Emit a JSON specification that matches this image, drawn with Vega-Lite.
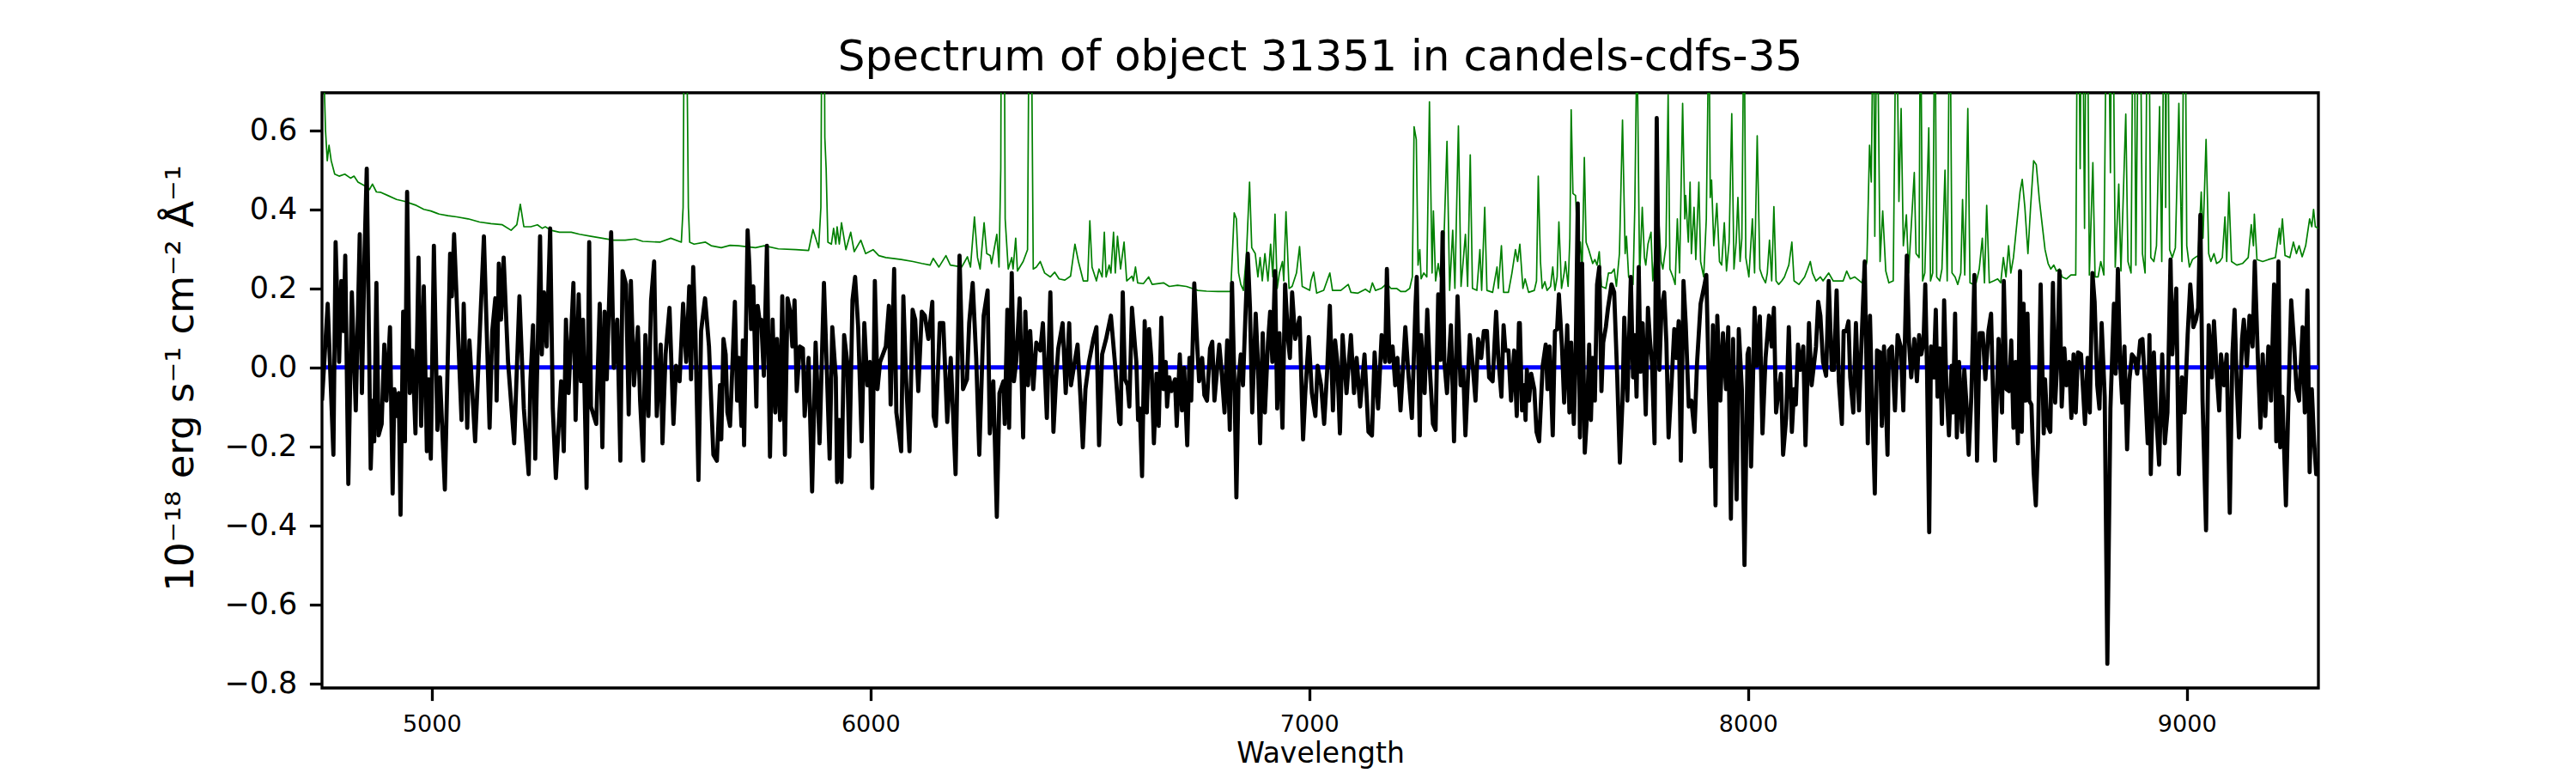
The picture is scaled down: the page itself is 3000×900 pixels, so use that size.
{
  "$schema": "https://vega.github.io/schema/vega-lite/v6.json",
  "width": 2325,
  "height": 693,
  "autosize": {"type": "none"},
  "padding": {"left": 375, "top": 108, "right": 300, "bottom": 99},
  "background": "white",
  "title": {
    "text": "Spectrum of object 31351 in candels-cdfs-35",
    "font": "DejaVu Sans",
    "fontSize": 50,
    "fontWeight": "normal",
    "color": "black",
    "anchor": "middle",
    "frame": "group",
    "baseline": "alphabetic",
    "offset": 25,
    "dy": 49
  },
  "config": {
    "font": "DejaVu Sans",
    "view": {"stroke": "black", "strokeWidth": 3.3},
    "axis": {
      "grid": false,
      "domain": false,
      "ticks": true,
      "tickColor": "black",
      "tickWidth": 3.3,
      "tickSize": 14.6,
      "labelColor": "black",
      "labelFont": "DejaVu Sans",
      "titleColor": "black",
      "titleFont": "DejaVu Sans",
      "titleFontWeight": "normal",
      "labelOverlap": false,
      "labelFlush": false
    }
  },
  "datasets": {
    "err": [
      {"w":4750,"v":0.80},{"w":4755,"v":0.72},{"w":4758,"v":0.60},{"w":4762,"v":0.523},{"w":4766,"v":0.562},{"w":4771,"v":0.523},{"w":4779,"v":0.489},{"w":4789,"v":0.484},{"w":4802,"v":0.489},{"w":4815,"v":0.479},{"w":4823,"v":0.484},{"w":4832,"v":0.469},{"w":4848,"v":0.459},{"w":4858,"v":0.450},{"w":4865,"v":0.464},{"w":4874,"v":0.444},{"w":4884,"v":0.443},{"w":4900,"v":0.435},{"w":4920,"v":0.425},{"w":4939,"v":0.420},{"w":4952,"v":0.415},{"w":4965,"v":0.410},{"w":4982,"v":0.400},{"w":4998,"v":0.396},{"w":5017,"v":0.388},{"w":5037,"v":0.384},{"w":5057,"v":0.381},{"w":5083,"v":0.376},{"w":5109,"v":0.368},{"w":5135,"v":0.364},{"w":5161,"v":0.361},{"w":5181,"v":0.347},{"w":5194,"v":0.361},{"w":5202,"v":0.413},{"w":5210,"v":0.356},{"w":5226,"v":0.356},{"w":5241,"v":0.361},{"w":5252,"v":0.352},{"w":5259,"v":0.356},{"w":5272,"v":0.347},{"w":5291,"v":0.342},{"w":5318,"v":0.342},{"w":5337,"v":0.337},{"w":5363,"v":0.332},{"w":5389,"v":0.327},{"w":5415,"v":0.322},{"w":5441,"v":0.322},{"w":5464,"v":0.325},{"w":5481,"v":0.319},{"w":5520,"v":0.317},{"w":5545,"v":0.327},{"w":5569,"v":0.317},{"w":5573,"v":0.405},{"w":5576,"v":1.0},{"w":5580,"v":1.0},{"w":5585,"v":0.405},{"w":5588,"v":0.317},{"w":5598,"v":0.312},{"w":5624,"v":0.317},{"w":5637,"v":0.308},{"w":5660,"v":0.303},
      {"w":5680,"v":0.309},{"w":5699,"v":0.308},{"w":5738,"v":0.303},{"w":5758,"v":0.308},{"w":5790,"v":0.300},{"w":5830,"v":0.298},{"w":5859,"v":0.296},{"w":5869,"v":0.349},{"w":5882,"v":0.303},{"w":5887,"v":0.405},{"w":5890,"v":1.1},{"w":5894,"v":1.1},{"w":5896,"v":0.582},{"w":5899,"v":0.503},{"w":5903,"v":0.317},{"w":5911,"v":0.312},{"w":5916,"v":0.352},{"w":5921,"v":0.312},{"w":5924,"v":0.356},{"w":5929,"v":0.312},{"w":5934,"v":0.366},{"w":5944,"v":0.298},{"w":5955,"v":0.342},{"w":5963,"v":0.293},{"w":5978,"v":0.322},{"w":5989,"v":0.288},{"w":6006,"v":0.298},{"w":6019,"v":0.283},{"w":6035,"v":0.278},{"w":6051,"v":0.276},{"w":6070,"v":0.273},{"w":6097,"v":0.268},{"w":6117,"v":0.263},{"w":6136,"v":0.259},{"w":6143,"v":0.276},{"w":6156,"v":0.254},{"w":6172,"v":0.283},{"w":6182,"v":0.259},{"w":6208,"v":0.254},{"w":6221,"v":0.280},{"w":6228,"v":0.254},{"w":6237,"v":0.381},{"w":6244,"v":0.278},{"w":6250,"v":0.249},{"w":6259,"v":0.366},{"w":6265,"v":0.288},{"w":6273,"v":0.283},{"w":6276,"v":0.263},{"w":6288,"v":0.337},{"w":6293,"v":0.254},{"w":6297,"v":0.503},{"w":6299,"v":1.2},{"w":6304,"v":1.2},{"w":6307,"v":0.376},{"w":6314,"v":0.249},{"w":6322,"v":0.278},{"w":6325,"v":0.249},{"w":6331,"v":0.327},{"w":6335,"v":0.244},{"w":6348,"v":0.268},{"w":6358,"v":0.298},{"w":6362,"v":1.0},{"w":6366,"v":1.0},{"w":6371,"v":0.249},{"w":6378,"v":0.254},{"w":6387,"v":0.268},{"w":6397,"v":0.239},{"w":6410,"v":0.229},{"w":6420,"v":0.241},{"w":6430,"v":0.224},{"w":6443,"v":0.221},{"w":6456,"v":0.231},{"w":6466,"v":0.312},{"w":6474,"v":0.268},{"w":6485,"v":0.219},{"w":6495,"v":0.219},{"w":6500,"v":0.371},{"w":6505,"v":0.254},{"w":6515,"v":0.219},{"w":6521,"v":0.249},{"w":6528,"v":0.229},{"w":6533,"v":0.342},{"w":6537,"v":0.229},{"w":6544,"v":0.259},{"w":6548,"v":0.239},{"w":6554,"v":0.342},{"w":6558,"v":0.239},{"w":6563,"v":0.332},{"w":6570,"v":0.249},
      {"w":6578,"v":0.317},{"w":6584,"v":0.219},{"w":6596,"v":0.231},{"w":6599,"v":0.219},{"w":6604,"v":0.254},{"w":6609,"v":0.214},{"w":6622,"v":0.212},{"w":6634,"v":0.229},{"w":6642,"v":0.210},{"w":6668,"v":0.214},{"w":6681,"v":0.205},{"w":6700,"v":0.208},{"w":6720,"v":0.205},{"w":6733,"v":0.200},{"w":6746,"v":0.195},{"w":6766,"v":0.193},{"w":6792,"v":0.192},{"w":6821,"v":0.192},{"w":6829,"v":0.391},{"w":6834,"v":0.376},{"w":6839,"v":0.239},{"w":6844,"v":0.210},{"w":6850,"v":0.195},{"w":6857,"v":0.288},{"w":6864,"v":0.469},{"w":6869,"v":0.303},{"w":6877,"v":0.288},{"w":6883,"v":0.229},{"w":6888,"v":0.278},{"w":6893,"v":0.219},{"w":6899,"v":0.288},{"w":6906,"v":0.219},{"w":6912,"v":0.312},{"w":6917,"v":0.229},{"w":6922,"v":0.388},{"w":6927,"v":0.200},{"w":6932,"v":0.239},{"w":6939,"v":0.268},{"w":6942,"v":0.219},{"w":6947,"v":0.394},{"w":6954,"v":0.200},{"w":6961,"v":0.205},{"w":6971,"v":0.239},{"w":6978,"v":0.306},{"w":6984,"v":0.205},{"w":7001,"v":0.195},{"w":7004,"v":0.219},{"w":7010,"v":0.241},{"w":7017,"v":0.188},{"w":7033,"v":0.195},{"w":7047,"v":0.239},{"w":7053,"v":0.195},{"w":7072,"v":0.195},{"w":7089,"v":0.210},{"w":7095,"v":0.190},{"w":7111,"v":0.188},{"w":7128,"v":0.198},{"w":7138,"v":0.190},{"w":7144,"v":0.214},{"w":7151,"v":0.195},{"w":7164,"v":0.200},{"w":7177,"v":0.212},{"w":7186,"v":0.200},{"w":7199,"v":0.200},{"w":7209,"v":0.192},{"w":7219,"v":0.192},{"w":7229,"v":0.200},{"w":7235,"v":0.229},{"w":7239,"v":0.609},{"w":7244,"v":0.577},{"w":7248,"v":0.259},{"w":7252,"v":0.298},{"w":7255,"v":0.224},{"w":7261,"v":0.239},{"w":7268,"v":0.229},{"w":7274,"v":0.672},{"w":7280,"v":0.239},{"w":7283,"v":0.396},{"w":7288,"v":0.219},{"w":7294,"v":0.263},{"w":7299,"v":0.229},{"w":7304,"v":0.214},{"w":7314,"v":0.572},{"w":7320,"v":0.195},{"w":7327,"v":0.347},{"w":7332,"v":0.200},{"w":7340,"v":0.611},{"w":7346,"v":0.205},{"w":7356,"v":0.337},{"w":7361,"v":0.205},{"w":7367,"v":0.538},{"w":7372,"v":0.200},{"w":7382,"v":0.195},{"w":7389,"v":0.298},{"w":7393,"v":0.195},{"w":7400,"v":0.405},{"w":7405,"v":0.195},{"w":7418,"v":0.190},{"w":7428,"v":0.254},{"w":7431,"v":0.200},{"w":7438,"v":0.308},{"w":7443,"v":0.190},{"w":7454,"v":0.190},{"w":7462,"v":0.239},{"w":7470,"v":0.298},{"w":7475,"v":0.268},{"w":7480,"v":0.312},
      {"w":7487,"v":0.200},{"w":7492,"v":0.224},{"w":7500,"v":0.190},{"w":7513,"v":0.195},{"w":7518,"v":0.219},{"w":7522,"v":0.484},{"w":7527,"v":0.268},{"w":7531,"v":0.200},{"w":7537,"v":0.217},{"w":7542,"v":0.195},{"w":7550,"v":0.205},{"w":7555,"v":0.254},{"w":7560,"v":0.195},{"w":7565,"v":0.229},{"w":7569,"v":0.368},{"w":7575,"v":0.200},{"w":7581,"v":0.239},{"w":7584,"v":0.268},{"w":7590,"v":0.205},{"w":7594,"v":0.327},{"w":7597,"v":0.652},{"w":7601,"v":0.440},{"w":7607,"v":0.435},{"w":7614,"v":0.263},{"w":7618,"v":0.317},{"w":7622,"v":0.249},{"w":7627,"v":0.531},{"w":7631,"v":0.317},{"w":7637,"v":0.298},{"w":7646,"v":0.263},{"w":7651,"v":0.273},{"w":7656,"v":0.259},{"w":7661,"v":0.293},{"w":7666,"v":0.205},{"w":7676,"v":0.200},{"w":7682,"v":0.239},{"w":7689,"v":0.239},{"w":7695,"v":0.249},{"w":7700,"v":0.205},{"w":7707,"v":0.288},{"w":7714,"v":0.626},{"w":7720,"v":0.288},{"w":7723,"v":0.332},{"w":7728,"v":0.229},{"w":7738,"v":0.210},{"w":7742,"v":0.405},{"w":7747,"v":0.85},{"w":7753,"v":0.229},{"w":7759,"v":0.405},{"w":7764,"v":0.278},{"w":7767,"v":0.259},{"w":7772,"v":0.312},{"w":7779,"v":0.342},{"w":7783,"v":0.219},{"w":7790,"v":0.308},{"w":7796,"v":0.386},{"w":7802,"v":0.268},{"w":7806,"v":0.249},{"w":7813,"v":0.308},{"w":7818,"v":0.690},{"w":7822,"v":0.249},{"w":7829,"v":0.229},{"w":7834,"v":0.210},{"w":7839,"v":0.376},{"w":7844,"v":0.239},{"w":7851,"v":0.668},{"w":7856,"v":0.376},{"w":7858,"v":0.435},{"w":7864,"v":0.317},{"w":7868,"v":0.469},{"w":7871,"v":0.288},{"w":7877,"v":0.405},{"w":7881,"v":0.273},{"w":7888,"v":0.469},{"w":7892,"v":0.268},{"w":7899,"v":0.229},{"w":7905,"v":0.376},{"w":7911,"v":0.9},{"w":7914,"v":0.430},{"w":7917,"v":0.474},{"w":7922,"v":0.308},{"w":7929,"v":0.415},{"w":7935,"v":0.268},{"w":7940,"v":0.259},{"w":7946,"v":0.366},{"w":7951,"v":0.244},{"w":7957,"v":0.317},{"w":7963,"v":0.642},{"w":7968,"v":0.249},{"w":7973,"v":0.317},{"w":7977,"v":0.430},{"w":7982,"v":0.268},{"w":7986,"v":0.327},{"w":7991,"v":0.95},{"w":7995,"v":0.278},{"w":8002,"v":0.229},{"w":8010,"v":0.376},{"w":8015,"v":0.239},{"w":8021,"v":0.586},{"w":8027,"v":0.249},{"w":8033,"v":0.229},{"w":8040,"v":0.214},{"w":8044,"v":0.239},{"w":8049,"v":0.322},{"w":8054,"v":0.219},{"w":8059,"v":0.407},{"w":8064,"v":0.219},{"w":8070,"v":0.210},{"w":8077,"v":0.219},{"w":8083,"v":0.229},{"w":8088,"v":0.244},{"w":8093,"v":0.259},{"w":8100,"v":0.317},{"w":8105,"v":0.219},{"w":8116,"v":0.210},{"w":8129,"v":0.229},{"w":8136,"v":0.249},{"w":8142,"v":0.268},{"w":8147,"v":0.239},{"w":8155,"v":0.219},{"w":8165,"v":0.229},{"w":8171,"v":0.219},{"w":8184,"v":0.239},{"w":8194,"v":0.219},{"w":8207,"v":0.219},{"w":8217,"v":0.219},{"w":8225,"v":0.244},{"w":8233,"v":0.224},{"w":8243,"v":0.229},{"w":8260,"v":0.214},{"w":8271,"v":0.268},{"w":8277,"v":0.562},{"w":8281,"v":0.469},{"w":8286,"v":1.0},{"w":8289,"v":0.332},{"w":8294,"v":1.0},{"w":8301,"v":0.268},{"w":8307,"v":0.396},{"w":8314,"v":0.244},{"w":8321,"v":0.214},{"w":8331,"v":0.219},{"w":8338,"v":1.0},{"w":8344,"v":0.420},{"w":8349,"v":0.655},{"w":8354,"v":0.308},{"w":8361,"v":0.386},{"w":8366,"v":0.239},{"w":8372,"v":0.356},{"w":8379,"v":0.493},{"w":8383,"v":0.288},{"w":8390,"v":0.278},
      {"w":8393,"v":1.0},{"w":8398,"v":0.219},{"w":8403,"v":0.239},{"w":8412,"v":0.606},{"w":8416,"v":0.219},{"w":8421,"v":0.239},{"w":8426,"v":1.0},{"w":8430,"v":0.229},{"w":8437,"v":0.219},{"w":8442,"v":0.249},{"w":8449,"v":0.499},{"w":8454,"v":0.219},{"w":8460,"v":1.0},{"w":8465,"v":0.239},{"w":8472,"v":0.229},{"w":8478,"v":0.210},{"w":8485,"v":0.239},{"w":8489,"v":0.425},{"w":8494,"v":0.234},{"w":8501,"v":0.655},{"w":8506,"v":0.214},{"w":8514,"v":0.210},{"w":8520,"v":0.214},{"w":8527,"v":0.249},{"w":8534,"v":0.327},{"w":8539,"v":0.214},{"w":8544,"v":0.410},{"w":8550,"v":0.214},{"w":8560,"v":0.219},{"w":8569,"v":0.224},{"w":8576,"v":0.214},{"w":8582,"v":0.278},{"w":8588,"v":0.229},{"w":8594,"v":0.308},{"w":8599,"v":0.239},{"w":8605,"v":0.278},{"w":8612,"v":0.356},{"w":8620,"v":0.444},{"w":8625,"v":0.476},{"w":8631,"v":0.405},{"w":8638,"v":0.288},{"w":8644,"v":0.405},{"w":8651,"v":0.523},{"w":8657,"v":0.513},{"w":8664,"v":0.425},{"w":8670,"v":0.366},{"w":8677,"v":0.298},{"w":8684,"v":0.263},{"w":8690,"v":0.249},{"w":8697,"v":0.259},{"w":8703,"v":0.244},{"w":8710,"v":0.249},{"w":8716,"v":0.229},{"w":8726,"v":0.224},{"w":8736,"v":0.234},{"w":8747,"v":0.234},{"w":8752,"v":1.2},{"w":8757,"v":0.503},{"w":8761,"v":1.2},{"w":8767,"v":0.352},{"w":8772,"v":1.2},{"w":8778,"v":0.234},{"w":8786,"v":0.518},{"w":8791,"v":0.229},{"w":8798,"v":0.229},{"w":8804,"v":0.268},{"w":8811,"v":0.234},{"w":8819,"v":1.2},{"w":8826,"v":0.493},{"w":8830,"v":1.2},{"w":8837,"v":0.254},{"w":8845,"v":0.464},{"w":8850,"v":0.244},{"w":8854,"v":0.386},{"w":8861,"v":0.641},{"w":8866,"v":0.268},{"w":8873,"v":0.239},{"w":8879,"v":1.2},{"w":8884,"v":0.259},{"w":8892,"v":1.2},{"w":8899,"v":0.288},{"w":8905,"v":0.239},{"w":8912,"v":1.2},{"w":8918,"v":0.278},{"w":8925,"v":0.268},{"w":8931,"v":0.308},{"w":8938,"v":0.660},{"w":8943,"v":0.268},{"w":8950,"v":1.2},{"w":8952,"v":0.405},{"w":8955,"v":1.2},{"w":8961,"v":0.298},{"w":8967,"v":0.278},{"w":8974,"v":0.303},{"w":8982,"v":0.668},{"w":8989,"v":0.268},{"w":8995,"v":1.2},{"w":9000,"v":0.308},{"w":9006,"v":0.254},{"w":9013,"v":0.273},{"w":9019,"v":0.278},{"w":9026,"v":0.283},{"w":9033,"v":0.444},{"w":9037,"v":0.327},{"w":9044,"v":0.577},{"w":9050,"v":0.288},{"w":9055,"v":0.268},{"w":9062,"v":0.288},{"w":9068,"v":0.263},{"w":9075,"v":0.268},{"w":9081,"v":0.278},{"w":9087,"v":0.381},{"w":9091,"v":0.268},{"w":9096,"v":0.443},{"w":9102,"v":0.268},{"w":9114,"v":0.259},{"w":9127,"v":0.263},{"w":9140,"v":0.278},{"w":9147,"v":0.361},{"w":9152,"v":0.308},{"w":9154,"v":0.388},{"w":9160,"v":0.273},{"w":9173,"v":0.268},{"w":9186,"v":0.273},{"w":9202,"v":0.278},{"w":9211,"v":0.352},{"w":9213,"v":0.312},{"w":9218,"v":0.376},{"w":9224,"v":0.283},{"w":9235,"v":0.278},{"w":9243,"v":0.317},{"w":9250,"v":0.288},{"w":9256,"v":0.308},{"w":9263,"v":0.280},{"w":9271,"v":0.308},{"w":9280,"v":0.376},{"w":9285,"v":0.356},{"w":9289,"v":0.400},{"w":9293,"v":0.356},{"w":9300,"v":0.352}
    ],
    "flux": [
      {"w":4750,"v":-0.084},{"w":4763,"v":0.161},{"w":4776,"v":-0.221},{"w":4781,"v":0.317},{"w":4789,"v":0.014},{"w":4794,"v":0.219},{"w":4799,"v":0.092},{"w":4803,"v":0.283},{"w":4810,"v":-0.295},{"w":4818,"v":0.190},{"w":4827,"v":-0.109},{"w":4836,"v":0.337},{"w":4841,"v":-0.065},{"w":4847,"v":0.293},{"w":4852,"v":0.503},{"w":4861,"v":-0.256},{"w":4866,"v":-0.084},{"w":4869,"v":-0.187},{"w":4874,"v":0.214},{"w":4879,"v":-0.172},{"w":4886,"v":-0.143},{"w":4892,"v":0.058},{"w":4897,"v":-0.084},{"w":4905,"v":0.102},{"w":4911,"v":-0.319},{"w":4915,"v":-0.055},{"w":4921,"v":-0.123},{"w":4925,"v":-0.065},{"w":4929,"v":-0.373},{"w":4935,"v":0.141},{"w":4939,"v":-0.187},{"w":4944,"v":0.444},{"w":4950,"v":-0.065},{"w":4956,"v":0.043},{"w":4963,"v":-0.167},{"w":4970,"v":0.278},{"w":4976,"v":-0.148},{"w":4982,"v":0.205},{"w":4989,"v":-0.212},{"w":4993,"v":-0.030},{"w":4998,"v":-0.231},{"w":5005,"v":0.308},{"w":5013,"v":-0.158},{"w":5019,"v":-0.025},{"w":5030,"v":-0.309},{"w":5042,"v":0.288},{"w":5046,"v":0.180},{"w":5051,"v":0.337},{"w":5068,"v":-0.133},{"w":5073,"v":0.161},{"w":5081,"v":-0.153},{"w":5086,"v":0.068},{"w":5099,"v":-0.187},{"w":5119,"v":0.332},{"w":5132,"v":-0.153},{"w":5138,"v":0.092},{"w":5145,"v":0.175},{"w":5148,"v":-0.084},{"w":5153,"v":0.263},{"w":5158,"v":0.121},{"w":5164,"v":0.278},{"w":5174,"v":0.014},{"w":5188,"v":-0.192},{"w":5200,"v":0.180},{"w":5210,"v":-0.104},{"w":5221,"v":-0.270},{"w":5225,"v":-0.035},{"w":5231,"v":0.107},{"w":5236,"v":-0.231},{"w":5247,"v":0.332},{"w":5251,"v":0.033},{"w":5256,"v":0.190},{"w":5262,"v":0.053},{"w":5270,"v":0.352},{"w":5276,"v":-0.104},{"w":5283,"v":-0.280},{"w":5295,"v":-0.035},{"w":5301,"v":-0.212},{"w":5306,"v":0.121},{"w":5312,"v":-0.065},{"w":5323,"v":0.214},{"w":5328,"v":-0.133},{"w":5335,"v":0.185},{"w":5340,"v":-0.035},{"w":5345,"v":0.121},{"w":5353,"v":-0.305},{"w":5359,"v":0.317},{"w":5363,"v":-0.099},{"w":5375,"v":-0.143},{"w":5383,"v":0.161},{"w":5389,"v":-0.202},{"w":5394,"v":0.141},{"w":5399,"v":-0.030},{"w":5409,"v":0.342},{"w":5415,"v":-0.001},{"w":5423,"v":0.121},{"w":5430,"v":-0.236},{"w":5435,"v":0.244},{"w":5443,"v":0.210},{"w":5449,"v":-0.119},{"w":5454,"v":0.219},{"w":5461,"v":-0.045},{"w":5470,"v":0.102},{"w":5475,"v":-0.084},{"w":5482,"v":-0.236},{"w":5487,"v":0.082},{"w":5494,"v":-0.123},{"w":5500,"v":0.170},{"w":5507,"v":0.268},{"w":5513,"v":-0.123},{"w":5522,"v":0.058},{"w":5526,"v":-0.192},{"w":5533,"v":0.033},{"w":5542,"v":0.151},{"w":5551,"v":-0.143},{"w":5557,"v":0.004},{"w":5565,"v":-0.035},{"w":5573,"v":0.161},{"w":5580,"v":0.014},{"w":5587,"v":0.205},{"w":5591,"v":-0.030},{"w":5596,"v":0.254},{"w":5601,"v":0.092},{"w":5608,"v":-0.285},{"w":5614,"v":0.092},{"w":5623,"v":0.175},{"w":5632,"v":0.053},{"w":5642,"v":-0.221},{"w":5650,"v":-0.236},{"w":5657,"v":-0.045},
      {"w":5660,"v":-0.182},{"w":5665,"v":0.072},{"w":5670,"v":0.033},{"w":5674,"v":-0.114},{"w":5680,"v":-0.148},{"w":5685,"v":-0.006},{"w":5691,"v":0.166},{"w":5696,"v":-0.084},{"w":5700,"v":0.024},{"w":5706,"v":-0.148},{"w":5709,"v":0.068},{"w":5712,"v":-0.197},{"w":5720,"v":0.347},{"w":5724,"v":0.259},{"w":5728,"v":0.097},{"w":5733,"v":0.205},{"w":5740,"v":-0.099},{"w":5743,"v":0.156},{"w":5748,"v":0.112},{"w":5751,"v":0.121},{"w":5757,"v":-0.021},{"w":5764,"v":0.308},{"w":5771,"v":-0.226},{"w":5777,"v":0.121},{"w":5783,"v":-0.114},{"w":5787,"v":0.072},{"w":5794,"v":-0.133},{"w":5799,"v":0.180},{"w":5805,"v":-0.221},{"w":5811,"v":0.175},{"w":5817,"v":0.141},{"w":5822,"v":0.053},{"w":5827,"v":0.170},{"w":5832,"v":-0.060},{"w":5839,"v":0.053},{"w":5846,"v":0.048},{"w":5850,"v":-0.123},{"w":5859,"v":0.024},{"w":5867,"v":-0.314},{"w":5875,"v":0.063},{"w":5884,"v":-0.192},{"w":5894,"v":0.214},{"w":5900,"v":0.014},{"w":5907,"v":-0.231},{"w":5913,"v":0.102},{"w":5921,"v":-0.025},{"w":5924,"v":-0.290},{"w":5929,"v":-0.133},{"w":5934,"v":-0.290},{"w":5940,"v":0.082},{"w":5947,"v":0.014},{"w":5952,"v":-0.226},{"w":5959,"v":0.170},{"w":5965,"v":0.229},{"w":5972,"v":0.102},{"w":5980,"v":-0.187},{"w":5986,"v":0.112},{"w":5993,"v":-0.045},{"w":5999,"v":0.014},{"w":6004,"v":-0.305},{"w":6010,"v":0.219},{"w":6016,"v":-0.055},{"w":6022,"v":0.014},{"w":6035,"v":0.053},{"w":6042,"v":0.156},{"w":6046,"v":-0.094},{"w":6054,"v":0.249},{"w":6059,"v":-0.114},{"w":6070,"v":-0.212},{"w":6075,"v":0.180},{"w":6081,"v":-0.025},{"w":6089,"v":-0.212},{"w":6096,"v":0.146},{"w":6102,"v":0.121},{"w":6109,"v":-0.060},{"w":6117,"v":0.141},{"w":6124,"v":0.131},{"w":6132,"v":0.072},{"w":6141,"v":0.166},{"w":6144,"v":-0.123},{"w":6149,"v":-0.148},{"w":6158,"v":0.112},{"w":6166,"v":0.112},{"w":6175,"v":-0.138},{"w":6183,"v":0.024},{"w":6194,"v":-0.270},{"w":6203,"v":0.283},{"w":6211,"v":-0.055},{"w":6220,"v":-0.030},{"w":6225,"v":0.112},{"w":6233,"v":0.214},{"w":6241,"v":0.024},{"w":6248,"v":-0.221},{"w":6258,"v":0.131},{"w":6267,"v":0.195},{"w":6272,"v":-0.167},{"w":6280,"v":-0.035},{"w":6288,"v":-0.378},{"w":6294,"v":-0.065},{"w":6303,"v":-0.035},{"w":6306,"v":-0.143},{"w":6312,"v":0.146},{"w":6316,"v":-0.153},{"w":6322,"v":0.239},{"w":6327,"v":-0.035},{"w":6332,"v":0.014},{"w":6340,"v":0.175},{"w":6348,"v":-0.177},{"w":6353,"v":0.141},{"w":6359,"v":-0.045},{"w":6364,"v":0.092},{"w":6371,"v":-0.055},{"w":6378,"v":0.063},{"w":6387,"v":0.043},{"w":6393,"v":0.112},{"w":6402,"v":-0.128},{"w":6410,"v":0.190},{"w":6417,"v":-0.163},{"w":6423,"v":-0.030},{"w":6428,"v":0.048},{"w":6438,"v":0.112},{"w":6445,"v":-0.065},{"w":6453,"v":0.112},{"w":6457,"v":-0.045},{"w":6464,"v":0.004},{"w":6472,"v":0.058},{"w":6479,"v":-0.084},{"w":6484,"v":-0.202},{"w":6490,"v":-0.055},{"w":6498,"v":0.014},{"w":6508,"v":0.072},{"w":6515,"v":0.102},{"w":6521,"v":-0.197},{"w":6528,"v":0.033},{"w":6537,"v":0.072},{"w":6548,"v":0.131},{"w":6557,"v":0.014},{"w":6567,"v":-0.138},
      {"w":6570,"v":-0.143},{"w":6575,"v":0.190},{"w":6580,"v":-0.030},{"w":6586,"v":-0.045},{"w":6590,"v":-0.099},{"w":6596,"v":0.151},{"w":6603,"v":0.053},{"w":6606,"v":0.014},{"w":6610,"v":-0.133},{"w":6614,"v":-0.104},{"w":6619,"v":-0.275},{"w":6625,"v":0.117},{"w":6630,"v":-0.114},{"w":6635,"v":0.097},{"w":6640,"v":0.024},{"w":6646,"v":-0.192},{"w":6652,"v":-0.016},{"w":6657,"v":-0.148},{"w":6663,"v":0.126},{"w":6668,"v":-0.055},{"w":6673,"v":0.014},{"w":6676,"v":-0.099},{"w":6681,"v":-0.025},{"w":6686,"v":-0.060},{"w":6694,"v":-0.030},{"w":6698,"v":-0.148},{"w":6705,"v":0.033},{"w":6710,"v":-0.109},{"w":6715,"v":-0.001},{"w":6722,"v":-0.197},{"w":6727,"v":0.024},{"w":6731,"v":-0.084},{"w":6738,"v":0.213},{"w":6745,"v":0.048},{"w":6749,"v":-0.035},{"w":6756,"v":0.024},{"w":6761,"v":-0.070},{"w":6767,"v":-0.084},{"w":6774,"v":0.048},{"w":6779,"v":0.065},{"w":6784,"v":-0.084},{"w":6790,"v":-0.006},{"w":6795,"v":0.058},{"w":6800,"v":-0.006},{"w":6807,"v":-0.114},{"w":6813,"v":0.068},{"w":6819,"v":-0.158},{"w":6824,"v":0.214},{"w":6830,"v":-0.065},{"w":6834,"v":-0.329},{"w":6839,"v":-0.030},{"w":6844,"v":0.033},{"w":6849,"v":-0.045},{"w":6854,"v":0.112},{"w":6860,"v":0.288},{"w":6865,"v":0.151},{"w":6870,"v":-0.114},{"w":6878,"v":0.136},{"w":6883,"v":0.014},{"w":6888,"v":-0.192},{"w":6894,"v":0.087},{"w":6899,"v":-0.114},{"w":6906,"v":0.063},{"w":6911,"v":0.141},{"w":6916,"v":0.014},{"w":6922,"v":0.244},{"w":6927,"v":-0.104},{"w":6932,"v":0.087},{"w":6939,"v":-0.153},{"w":6945,"v":0.210},{"w":6952,"v":0.068},{"w":6956,"v":0.024},{"w":6961,"v":0.190},{"w":6968,"v":0.072},{"w":6978,"v":0.126},{"w":6986,"v":-0.182},{"w":6991,"v":-0.065},{"w":6999,"v":0.077},{"w":7006,"v":-0.065},{"w":7014,"v":-0.123},{"w":7019,"v":0.004},{"w":7027,"v":-0.045},{"w":7034,"v":-0.143},{"w":7041,"v":-0.006},{"w":7047,"v":0.156},{"w":7054,"v":-0.109},{"w":7059,"v":0.068},{"w":7064,"v":0.014},{"w":7070,"v":-0.167},{"w":7076,"v":0.082},{"w":7085,"v":-0.065},{"w":7095,"v":0.082},{"w":7102,"v":-0.065},{"w":7108,"v":0.024},{"w":7116,"v":-0.099},{"w":7126,"v":0.033},{"w":7135,"v":-0.163},{"w":7143,"v":-0.172},{"w":7149,"v":0.038},{"w":7157,"v":-0.104},{"w":7165,"v":0.082},{"w":7173,"v":0.014},{"w":7177,"v":0.249},{"w":7183,"v":0.014},{"w":7190,"v":0.053},{"w":7196,"v":-0.045},{"w":7201,"v":0.024},{"w":7208,"v":-0.109},{"w":7219,"v":0.102},{"w":7226,"v":-0.016},{"w":7234,"v":-0.128},{"w":7242,"v":0.151},{"w":7245,"v":0.229},{"w":7252,"v":-0.172},{"w":7255,"v":0.082},{"w":7263,"v":-0.065},{"w":7269,"v":0.146},{"w":7274,"v":0.014},{"w":7282,"v":-0.143},{"w":7288,"v":-0.158},{"w":7294,"v":0.185},{"w":7299,"v":0.019},{"w":7304,"v":0.342},{"w":7308,"v":0.014},{"w":7314,"v":-0.065},{"w":7323,"v":0.107},{"w":7330,"v":-0.187},{"w":7338,"v":0.180},{"w":7345,"v":-0.045},{"w":7351,"v":-0.006},{"w":7356,"v":-0.172},{"w":7366,"v":0.082},{"w":7372,"v":0.014},{"w":7379,"v":-0.084},{"w":7385,"v":0.072},{"w":7392,"v":0.024},{"w":7398,"v":0.092},{"w":7405,"v":0.092},{"w":7410,"v":-0.025},{"w":7418,"v":-0.035},{"w":7426,"v":0.141},{"w":7431,"v":0.024},{"w":7438,"v":-0.074},{"w":7443,"v":0.107},{"w":7447,"v":0.043},{"w":7454,"v":0.043},{"w":7460,"v":-0.084},{"w":7467,"v":0.043},{"w":7473,"v":-0.123},{"w":7478,"v":0.112},
      {"w":7480,"v":0.112},{"w":7485,"v":-0.109},{"w":7490,"v":-0.045},{"w":7493,"v":-0.133},{"w":7496,"v":-0.006},{"w":7501,"v":-0.084},{"w":7506,"v":-0.016},{"w":7513,"v":-0.055},{"w":7518,"v":-0.163},{"w":7524,"v":-0.187},{"w":7532,"v":0.004},{"w":7539,"v":0.058},{"w":7543,"v":-0.055},{"w":7548,"v":0.053},{"w":7555,"v":-0.172},{"w":7560,"v":0.092},{"w":7565,"v":0.097},{"w":7569,"v":0.185},{"w":7576,"v":0.053},{"w":7581,"v":-0.089},{"w":7588,"v":0.107},{"w":7593,"v":-0.114},{"w":7597,"v":0.063},{"w":7603,"v":-0.143},{"w":7607,"v":0.014},{"w":7612,"v":0.415},{"w":7617,"v":-0.177},{"w":7622,"v":0.263},{"w":7628,"v":-0.216},{"w":7633,"v":-0.123},{"w":7638,"v":0.058},{"w":7642,"v":-0.133},{"w":7646,"v":0.024},{"w":7651,"v":-0.084},{"w":7656,"v":0.210},{"w":7661,"v":0.254},{"w":7666,"v":-0.060},{"w":7670,"v":0.063},{"w":7676,"v":0.102},{"w":7681,"v":0.151},{"w":7689,"v":0.210},{"w":7695,"v":0.190},{"w":7702,"v":-0.025},{"w":7708,"v":-0.241},{"w":7714,"v":-0.084},{"w":7718,"v":0.126},{"w":7725,"v":-0.084},{"w":7733,"v":0.229},{"w":7738,"v":-0.025},{"w":7742,"v":0.082},{"w":7746,"v":-0.074},{"w":7751,"v":0.254},{"w":7755,"v":-0.011},{"w":7760,"v":0.112},{"w":7767,"v":-0.119},{"w":7772,"v":0.151},{"w":7777,"v":0.063},{"w":7781,"v":0.014},{"w":7787,"v":-0.192},{"w":7792,"v":0.631},{"w":7798,"v":-0.006},{"w":7803,"v":0.151},{"w":7809,"v":0.190},{"w":7814,"v":0.063},{"w":7819,"v":-0.177},{"w":7826,"v":-0.035},{"w":7832,"v":0.097},{"w":7837,"v":0.024},{"w":7842,"v":0.117},{"w":7847,"v":-0.236},{"w":7853,"v":0.219},{"w":7858,"v":0.112},{"w":7865,"v":-0.099},{"w":7871,"v":-0.084},{"w":7878,"v":-0.163},{"w":7884,"v":0.014},{"w":7892,"v":0.161},{"w":7901,"v":0.210},{"w":7905,"v":0.234},{"w":7911,"v":-0.055},{"w":7916,"v":-0.251},{"w":7920,"v":0.107},{"w":7926,"v":-0.349},{"w":7930,"v":0.131},{"w":7937,"v":-0.084},{"w":7943,"v":0.087},{"w":7950,"v":-0.055},{"w":7955,"v":0.102},{"w":7961,"v":-0.383},{"w":7966,"v":0.072},{"w":7974,"v":-0.334},{"w":7979,"v":0.097},{"w":7986,"v":-0.055},{"w":7992,"v":-0.500},{"w":7999,"v":0.033},{"w":8002,"v":0.048},{"w":8007,"v":-0.251},{"w":8015,"v":0.151},{"w":8020,"v":0.004},{"w":8027,"v":0.129},{"w":8033,"v":-0.167},{"w":8040,"v":0.024},{"w":8048,"v":0.131},{"w":8054,"v":0.053},{"w":8059,"v":0.151},{"w":8064,"v":-0.114},{"w":8070,"v":-0.055},{"w":8075,"v":-0.016},{"w":8080,"v":-0.221},{"w":8087,"v":-0.128},{"w":8093,"v":0.102},{"w":8100,"v":-0.163},{"w":8105,"v":-0.055},{"w":8109,"v":-0.094},{"w":8114,"v":0.058},{"w":8119,"v":-0.006},{"w":8126,"v":0.053},{"w":8131,"v":-0.197},{"w":8139,"v":0.112},{"w":8145,"v":-0.045},{"w":8151,"v":0.014},{"w":8155,"v":0.053},{"w":8160,"v":0.166},{"w":8165,"v":0.131},{"w":8171,"v":0.014},{"w":8178,"v":-0.021},{"w":8184,"v":0.219},{"w":8191,"v":-0.006},{"w":8196,"v":-0.006},{"w":8202,"v":0.195},{"w":8207,"v":-0.035},{"w":8214,"v":-0.143},{"w":8218,"v":0.092},{"w":8224,"v":0.092},{"w":8229,"v":0.117},{"w":8233,"v":-0.025},{"w":8240,"v":-0.114},{"w":8246,"v":0.112},{"w":8253,"v":-0.109},{"w":8259,"v":0.072},{"w":8266,"v":0.268},{"w":8273,"v":-0.192},{"w":8278,"v":0.131},{"w":8282,"v":-0.045},{"w":8289,"v":-0.319},{"w":8294,"v":0.043},{"w":8301,"v":0.038},{"w":8305,"v":-0.148},{"w":8310,"v":0.053},{"w":8318,"v":-0.221},{"w":8321,"v":0.043},{"w":8328,"v":0.053},{"w":8335,"v":-0.109},{"w":8341,"v":0.082},{"w":8348,"v":0.053},{"w":8354,"v":-0.109},{"w":8362,"v":0.283},{"w":8367,"v":0.063},{"w":8372,"v":-0.025},{"w":8379,"v":0.072},{"w":8385,"v":-0.035},{"w":8390,"v":0.082},
      {"w":8395,"v":0.033},{"w":8400,"v":0.063},{"w":8404,"v":0.210},{"w":8408,"v":-0.006},{"w":8413,"v":-0.417},{"w":8417,"v":0.053},{"w":8423,"v":-0.025},{"w":8428,"v":0.146},{"w":8432,"v":-0.074},{"w":8437,"v":0.048},{"w":8442,"v":-0.143},{"w":8447,"v":0.170},{"w":8452,"v":-0.045},{"w":8458,"v":-0.172},{"w":8464,"v":0.004},{"w":8467,"v":-0.114},{"w":8472,"v":0.136},{"w":8476,"v":-0.177},{"w":8481,"v":0.014},{"w":8488,"v":-0.163},{"w":8493,"v":-0.006},{"w":8498,"v":-0.094},{"w":8503,"v":-0.221},{"w":8509,"v":-0.074},{"w":8516,"v":0.234},{"w":8522,"v":-0.236},{"w":8528,"v":0.087},{"w":8535,"v":0.087},{"w":8541,"v":-0.030},{"w":8548,"v":0.092},{"w":8554,"v":0.136},{"w":8558,"v":-0.045},{"w":8563,"v":-0.236},{"w":8571,"v":0.072},{"w":8579,"v":-0.114},{"w":8583,"v":0.219},{"w":8589,"v":-0.055},{"w":8595,"v":-0.060},{"w":8600,"v":0.068},{"w":8605,"v":-0.153},{"w":8610,"v":0.014},{"w":8615,"v":-0.192},{"w":8620,"v":0.244},{"w":8624,"v":-0.163},{"w":8628,"v":0.161},{"w":8633,"v":-0.084},{"w":8637,"v":0.136},{"w":8641,"v":-0.084},{"w":8646,"v":-0.094},{"w":8651,"v":-0.265},{"w":8656,"v":-0.349},{"w":8661,"v":-0.187},{"w":8667,"v":0.210},{"w":8674,"v":-0.167},{"w":8677,"v":-0.030},{"w":8682,"v":-0.143},{"w":8689,"v":-0.163},{"w":8695,"v":0.214},{"w":8700,"v":-0.089},{"w":8704,"v":-0.006},{"w":8710,"v":0.244},{"w":8715,"v":-0.099},{"w":8721,"v":0.048},{"w":8726,"v":-0.045},{"w":8732,"v":0.014},{"w":8737,"v":-0.128},{"w":8742,"v":0.033},{"w":8747,"v":-0.114},{"w":8752,"v":0.038},{"w":8759,"v":0.033},{"w":8763,"v":-0.045},{"w":8768,"v":-0.143},{"w":8774,"v":0.024},{"w":8779,"v":-0.114},{"w":8785,"v":0.239},{"w":8790,"v":0.166},{"w":8796,"v":-0.045},{"w":8801,"v":-0.104},{"w":8806,"v":0.112},{"w":8813,"v":-0.074},{"w":8819,"v":-0.750},{"w":8826,"v":-0.104},{"w":8834,"v":0.161},{"w":8838,"v":-0.016},{"w":8843,"v":0.249},{"w":8848,"v":0.014},{"w":8853,"v":-0.089},{"w":8858,"v":0.053},{"w":8864,"v":-0.207},{"w":8869,"v":-0.035},{"w":8875,"v":0.033},{"w":8881,"v":0.024},{"w":8887,"v":-0.016},{"w":8894,"v":0.068},{"w":8899,"v":0.072},{"w":8905,"v":-0.045},{"w":8911,"v":-0.192},{"w":8915,"v":0.082},{"w":8918,"v":-0.270},{"w":8925,"v":0.038},{"w":8930,"v":-0.114},{"w":8937,"v":-0.246},{"w":8944,"v":0.033},{"w":8950,"v":-0.192},{"w":8956,"v":-0.114},{"w":8963,"v":0.273},{"w":8967,"v":0.033},{"w":8976,"v":0.200},{"w":8982,"v":-0.270},{"w":8989,"v":-0.025},{"w":8995,"v":-0.114},{"w":9002,"v":0.082},{"w":9008,"v":0.210},{"w":9015,"v":0.102},{"w":9021,"v":0.121},{"w":9026,"v":0.151},{"w":9031,"v":0.386},{"w":9036,"v":-0.084},{"w":9044,"v":-0.412},{"w":9050,"v":0.107},{"w":9057,"v":-0.025},{"w":9062,"v":0.117},{"w":9068,"v":-0.011},{"w":9074,"v":-0.109},{"w":9078,"v":0.033},{"w":9085,"v":-0.045},{"w":9091,"v":0.033},{"w":9098,"v":-0.368},{"w":9104,"v":0.033},{"w":9109,"v":0.146},{"w":9114,"v":-0.045},{"w":9119,"v":-0.177},{"w":9126,"v":0.072},{"w":9130,"v":0.121},{"w":9137,"v":0.004},{"w":9143,"v":0.131},{"w":9150,"v":0.053},{"w":9155,"v":0.268},{"w":9162,"v":0.024},{"w":9168,"v":-0.153},{"w":9173,"v":0.033},{"w":9179,"v":-0.123},{"w":9186,"v":0.053},{"w":9192,"v":-0.084},{"w":9199,"v":0.210},{"w":9204,"v":-0.187},{"w":9209,"v":0.268},{"w":9213,"v":-0.202},{"w":9218,"v":-0.074},{"w":9226,"v":-0.349},{"w":9231,"v":-0.114},{"w":9238,"v":0.170},{"w":9245,"v":0.053},{"w":9250,"v":-0.055},{"w":9256,"v":-0.084},{"w":9264,"v":0.102},{"w":9269,"v":-0.114},{"w":9275,"v":0.195},{"w":9280,"v":-0.265},{"w":9285,"v":-0.055},{"w":9290,"v":-0.182},{"w":9295,"v":-0.270},{"w":9300,"v":-0.270}
    ],
    "zero": [
      {"w":4750,"v":0},{"w":9300,"v":0}
    ]
  },
  "encoding": {
    "x": {
      "field": "w",
      "type": "quantitative",
      "scale": {"domain": [4750, 9300], "nice": false, "zero": false},
      "axis": {
        "title": "Wavelength",
        "values": [5000, 6000, 7000, 8000, 9000],
        "format": "d",
        "labelFontSize": 27,
        "labelBaseline": "alphabetic",
        "labelPadding": 36,
        "titleFontSize": 33,
        "titleBaseline": "alphabetic",
        "titleY": 86
      }
    },
    "y": {
      "field": "v",
      "type": "quantitative",
      "scale": {"domain": [-0.811, 0.695], "nice": false, "zero": false},
      "axis": {
        "title": "10⁻¹⁸ erg s⁻¹ cm⁻² Å⁻¹",
        "values": [-0.8, -0.6, -0.4, -0.2, 0, 0.2, 0.4, 0.6],
        "format": ".1f",
        "labelFontSize": 35,
        "labelPadding": 14.6,
        "titleFontSize": 45,
        "titleAngle": 270,
        "titleBaseline": "alphabetic",
        "titleX": -151,
        "titleY": 332
      }
    }
  },
  "layer": [
    {
      "data": {"name": "err"},
      "mark": {"type": "line", "color": "#008000", "strokeWidth": 1.7, "strokeJoin": "round", "clip": true}
    },
    {
      "data": {"name": "zero"},
      "mark": {"type": "line", "color": "#0000ff", "strokeWidth": 5, "clip": true}
    },
    {
      "data": {"name": "flux"},
      "mark": {"type": "line", "color": "black", "strokeWidth": 4.8, "strokeJoin": "round", "clip": true}
    }
  ]
}
